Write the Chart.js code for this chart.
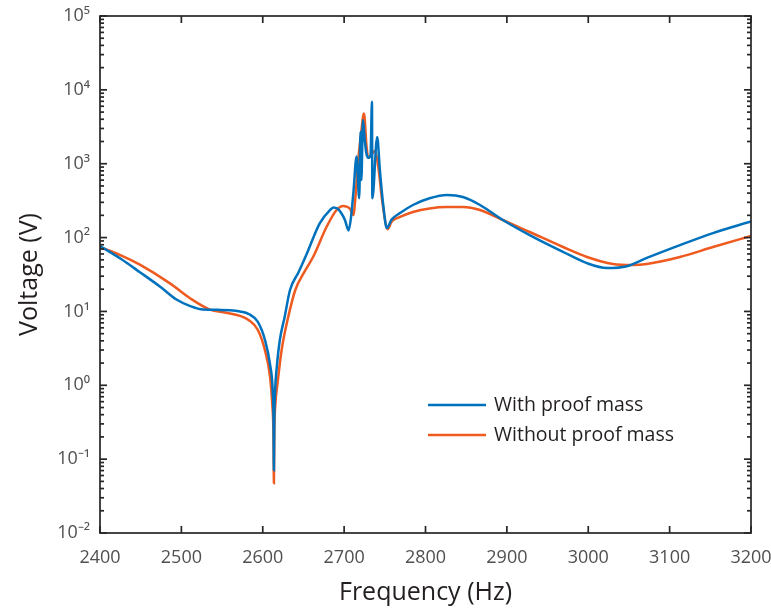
<!DOCTYPE html>
<html>
<head>
<meta charset="utf-8">
<script src="https://cdn.jsdelivr.net/npm/chart.js@4/dist/chart.umd.min.js"></script>
<style>
  html, body { margin: 0; padding: 0; background: #ffffff; }
  #wrap { width: 771px; height: 609px; }
</style>
</head>
<body>
<div id="wrap"><canvas id="c" width="771" height="609"></canvas></div>
<script>
// ---- data ----
const seriesLabels = ['With proof mass', 'Without proof mass'];

const freqWith = [2400, 2425, 2449, 2474, 2494, 2511, 2527, 2545, 2560, 2572, 2583, 2594, 2603, 2609,
  2612.2, 2613.3, 2613.7, 2614.2, 2615.3, 2617.1, 2621, 2627, 2633.5, 2644, 2654, 2670, 2682.6, 2687,
  2692, 2697, 2701, 2705.5, 2708.5, 2711.5, 2715.3, 2718.5, 2720.2, 2721.2, 2723.1, 2725.5, 2727.5,
  2729.6, 2732.5, 2734.2, 2734.7, 2740.6, 2744, 2748, 2752.5, 2758.3, 2768.7, 2784.6, 2805, 2826.4,
  2846, 2867, 2895, 2928, 2969, 2998.5, 3023, 3047.6, 3072, 3112.7, 3153.3, 3200];
const voltWith = [77, 52, 34, 21.6, 14.5, 11.8, 10.6, 10.5, 10.4, 10.0, 9.2, 7.2, 4.0, 1.9,
  0.86, 0.32, 0.071, 0.36, 0.9, 1.7, 4.1, 8.5, 19.5, 34, 60, 156, 236, 255,
  245, 210, 173, 125, 190, 420, 1250, 340, 2700, 600, 3900, 2000, 1350,
  1200, 1300, 6900, 340, 2300, 800, 280, 135, 175, 215, 276, 340, 377,
  354, 276, 173, 108, 64, 45, 38.7, 41, 53, 79, 115, 165];

const freqWithout = [2400, 2425, 2449, 2486, 2511, 2535, 2555, 2572, 2583, 2594, 2603, 2609, 2611.7,
  2613.2, 2613.7, 2614.3, 2615.5, 2618.2, 2623.2, 2631.4, 2640, 2651, 2662, 2678.5, 2690.7, 2698.8,
  2703, 2707.2, 2711.3, 2714.6, 2717.3, 2720.7, 2724.4, 2727.4, 2729.6, 2733, 2738, 2742, 2747,
  2753.5, 2758.3, 2768.7, 2784.6, 2805, 2826.4, 2846, 2867, 2895, 2928, 2969, 2998.5, 3030.4, 3055,
  3072, 3112.7, 3153.3, 3200];
const voltWithout = [74, 58, 43, 24, 15, 10.6, 9.6, 8.7, 7.6, 5.6, 2.9, 1.3, 0.55,
  0.2, 0.047, 0.25, 0.55, 1.07, 3.0, 8.5, 19.5, 34, 55, 140, 236, 268,
  262, 245, 202, 440, 1120, 2450, 4800, 1790, 1200, 1300, 1500, 900, 300,
  130, 164, 190, 222, 248, 259, 259, 236, 173, 119, 74.5, 54.6, 43.9, 42.5,
  43.9, 54.6, 74.5, 105];

const xTickValues = [2400, 2500, 2600, 2700, 2800, 2900, 3000, 3100, 3200];
const yTickValues = [1e-2, 1e-1, 1e0, 1e1, 1e2, 1e3, 1e4, 1e5];
const minorMultipliers = [2, 3, 4, 5, 6, 7, 8, 9];

// ---- styling ----
const FONT = 'Open Sans';
const colorWith = '#0072BD';
const colorWithout = '#EE5A1F';
const axisColor = '#262626';
const tickLabelColor = '#505050';
const titleColor = '#231f20';

const SUP = {'-': '\u207B', '0': '\u2070', '1': '\u00B9', '2': '\u00B2', '3': '\u00B3',
             '4': '\u2074', '5': '\u2075', '6': '\u2076', '7': '\u2077', '8': '\u2078', '9': '\u2079'};
function supText(n) { return String(n).split('').map(ch => SUP[ch]).join(''); }

function toPoints(xs, ys) { return xs.map((x, i) => ({x: x, y: ys[i]})); }

const framePlugin = {
  id: 'matlabFrame',
  afterDatasetsDraw(chart) {
    const {ctx, chartArea, scales} = chart;
    const {left, right, top, bottom} = chartArea;
    const xs = scales.x, ys = scales.y;
    ctx.save();
    ctx.strokeStyle = axisColor;
    ctx.lineWidth = 1.7;
    ctx.lineCap = 'butt';
    ctx.strokeRect(left, top, right - left, bottom - top);
    const seg = (x1, y1, x2, y2) => { ctx.beginPath(); ctx.moveTo(x1, y1); ctx.lineTo(x2, y2); ctx.stroke(); };
    xTickValues.forEach(v => {
      const px = xs.getPixelForValue(v);
      seg(px, bottom, px, bottom - 7);
      seg(px, top, px, top + 7);
    });
    yTickValues.forEach((v, i) => {
      const py = ys.getPixelForValue(v);
      seg(left, py, left + 7, py);
      seg(right, py, right - 7, py);
      if (i < yTickValues.length - 1) {
        minorMultipliers.forEach(m => {
          const pm = ys.getPixelForValue(v * m);
          seg(left, pm, left + 4, pm);
          seg(right, pm, right - 4, pm);
        });
      }
    });
    // legend (MATLAB style, no box)
    const items = chart.data.datasets;
    const lx0 = 428, lx1 = 486, tx = 494;
    const rowsY = [405, 435];
    ctx.font = '19.5px "' + FONT + '"';
    ctx.textBaseline = 'middle';
    ctx.textAlign = 'left';
    items.forEach((ds, i) => {
      ctx.strokeStyle = ds.borderColor;
      ctx.lineWidth = ds.borderWidth;
      seg(lx0, rowsY[i], lx1, rowsY[i]);
      ctx.fillStyle = titleColor;
      ctx.fillText(ds.label, tx, rowsY[i]);
    });
    ctx.restore();
  }
};

new Chart(document.getElementById('c'), {
  type: 'line',
  data: {
    datasets: [
      { label: seriesLabels[0], data: toPoints(freqWith, voltWith), borderColor: colorWith,
        borderWidth: 2.5, pointRadius: 0, cubicInterpolationMode: 'monotone', fill: false },
      { label: seriesLabels[1], data: toPoints(freqWithout, voltWithout), borderColor: colorWithout,
        borderWidth: 2.5, pointRadius: 0, cubicInterpolationMode: 'monotone', fill: false }
    ]
  },
  options: {
    responsive: false,
    animation: false,
    devicePixelRatio: 1,
    layout: { padding: { left: 0, top: 16, right: 20, bottom: 0 } },
    plugins: { legend: { display: false }, tooltip: { enabled: false } },
    scales: {
      x: {
        type: 'linear', min: 2400, max: 3200,
        afterBuildTicks: s => { s.ticks = xTickValues.map(v => ({value: v})); },
        afterFit: s => { s.height = 76; s.paddingLeft = 0; s.paddingRight = 0; },
        grid: { display: false, drawTicks: false },
        border: { display: false },
        ticks: { color: tickLabelColor, font: { family: FONT, size: 18 }, padding: 14, maxRotation: 0,
                 callback: v => String(v) },
        title: { display: true, text: 'Frequency (Hz)', color: titleColor,
                 font: { family: FONT, size: 25 }, padding: { top: 0, bottom: 1 } }
      },
      y: {
        type: 'logarithmic', min: 1e-2, max: 1e5,
        afterBuildTicks: s => { s.ticks = yTickValues.map(v => ({value: v})); },
        afterFit: s => { s.width = 100; s.paddingTop = 0; s.paddingBottom = 0; },
        grid: { display: false, drawTicks: false },
        border: { display: false },
        ticks: { color: tickLabelColor, font: { family: FONT, size: 18 }, padding: 10,
                 callback: v => '10' + supText(Math.round(Math.log10(v))) },
        title: { display: true, text: 'Voltage (V)', color: titleColor,
                 font: { family: FONT, size: 25 }, padding: { top: 15, bottom: 0 } }
      }
    }
  },
  plugins: [framePlugin]
});
</script>
</body>
</html>
